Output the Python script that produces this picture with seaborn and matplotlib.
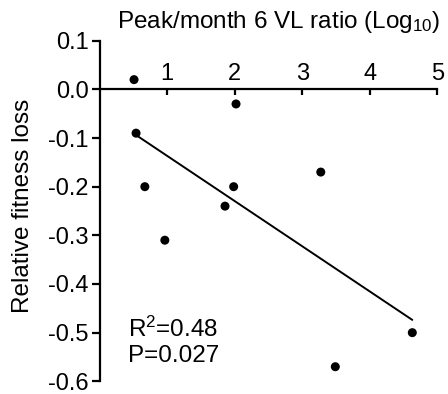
import matplotlib
matplotlib.use("Agg")
import matplotlib.pyplot as plt
import seaborn as sns
import pandas as pd

# Data
vl_ratio_log10 = [0.51, 2.02, 0.54, 0.67, 1.985, 1.857, 0.966, 3.275, 4.63, 3.49]
fitness_loss = [0.02, -0.03, -0.09, -0.20, -0.20, -0.24, -0.31, -0.17, -0.50, -0.57]
x_ticks = [1, 2, 3, 4, 5]
y_ticks = [0.1, 0.0, -0.1, -0.2, -0.3, -0.4, -0.5, -0.6]
y_tick_labels = ["0.1", "0.0", "-0.1", "-0.2", "-0.3", "-0.4", "-0.5", "-0.6"]
x_title = "Peak/month 6 VL ratio (Log$_{10}$)"
y_title = "Relative fitness loss"
stats_lines = ["R$^{2}$=0.48", "P=0.027"]

sns.set_style("ticks")
plt.rcParams["font.family"] = ["Liberation Sans", "DejaVu Sans"]
plt.rcParams["mathtext.fontset"] = "custom"
plt.rcParams["mathtext.rm"] = "Liberation Sans"
plt.rcParams["mathtext.it"] = "Liberation Sans:italic"
plt.rcParams["mathtext.bf"] = "Liberation Sans:bold"
plt.rcParams["axes.unicode_minus"] = False
for k in ["text.color", "axes.labelcolor", "xtick.color", "ytick.color",
          "axes.edgecolor", "xtick.labelcolor", "ytick.labelcolor"]:
    plt.rcParams[k] = "black"

df = pd.DataFrame({"x": vl_ratio_log10, "y": fitness_loss})

fig = plt.figure(figsize=(4.48, 3.94), dpi=100)
ax = fig.add_axes([0.2223, 0.0322, 0.7538, 0.8645])

sns.regplot(data=df, x="x", y="y", ax=ax, ci=None, truncate=True, color="black",
            scatter_kws=dict(s=42, color="black", alpha=1, edgecolor="none",
                             linewidths=0, clip_on=False, zorder=3),
            line_kws=dict(color="black", lw=1.4))

ax.set_xlim(0, 5)
ax.set_ylim(-0.6, 0.1)

# spines
for s in ["right", "bottom"]:
    ax.spines[s].set_visible(False)
ax.spines["top"].set_position(("data", 0))
ax.spines["top"].set_linewidth(1.6)
ax.spines["left"].set_linewidth(1.6)
ax.spines["top"].set_color("black")
ax.spines["left"].set_color("black")

ax.xaxis.tick_top()
ax.set_xticks(x_ticks)
ax.set_xticklabels([str(t) for t in x_ticks])
ax.tick_params(axis="x", which="both", direction="in", length=4.5, width=1.6,
               pad=3, labelsize=17, colors="black", bottom=False, top=True)
ax.set_yticks(y_ticks)
ax.set_yticklabels(y_tick_labels)
ax.tick_params(axis="y", direction="out", length=6, width=1.6, pad=2,
               labelsize=17, colors="black")

ax.set_xlabel("")
ax.set_ylabel("")

fig.text(278.4 / 448, 1 - 28.3 / 394, x_title, ha="center", va="baseline",
         fontsize=17.5, color="black")
fig.text(23 / 448, 1 - 205.5 / 394, y_title, ha="center", va="center",
         rotation=90, fontsize=17.5, color="black")
fig.text(128.3 / 448, 1 - 337 / 394, stats_lines[0], ha="left", va="baseline",
         fontsize=17.5, color="black")
fig.text(128.3 / 448, 1 - 362 / 394, stats_lines[1], ha="left", va="baseline",
         fontsize=17.5, color="black")

fig.savefig("out.png", dpi=100)
